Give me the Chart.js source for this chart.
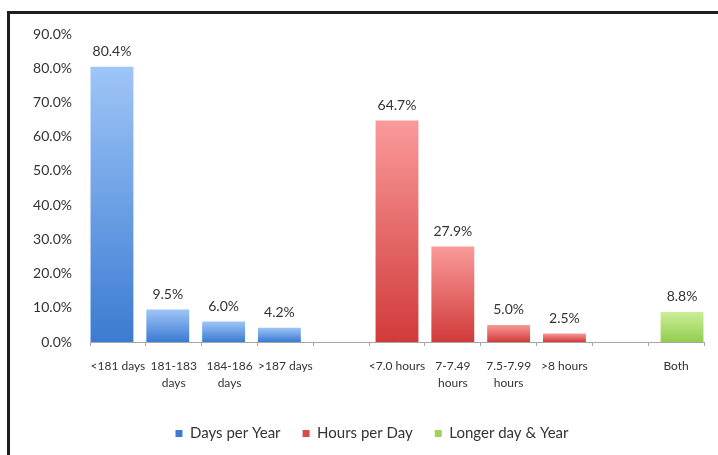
<!DOCTYPE html>
<html lang="en">
<head>
    <meta charset="UTF-8">
    <title>School Days and Hours</title>
    <script src="https://cdn.jsdelivr.net/npm/chart.js"></script>
    <style>
        html, body { margin: 0; padding: 0; background: #fff; overflow: hidden; }
        #wrap { position: relative; width: 718px; height: 455px; }
        #frame { position: absolute; left: 7px; top: 11px; width: 800px; height: 500px; border: 3px solid #1e1e1e; pointer-events: none; }
        canvas { position: absolute; left: 0; top: 0; }
    </style>
</head>
<body>
    <div id="wrap">
        <canvas id="chart" width="718" height="455"></canvas>
        <div id="frame"></div>
    </div>

    <script>
        const categories = [
            '<181 days', ['181-183', 'days'], ['184-186', 'days'], '>187 days', '',
            '<7.0 hours', ['7-7.49', 'hours'], ['7.5-7.99', 'hours'], '>8 hours', '',
            'Both'
        ];
        const daysPerYear  = [80.4, 9.5, 6.0, 4.2, null, null, null, null, null, null, null];
        const hoursPerDay  = [null, null, null, null, null, 64.7, 27.9, 5.0, 2.5, null, null];
        const longerDayYear = [null, null, null, null, null, null, null, null, null, null, 8.8];
        const yTicks = [0, 10, 20, 30, 40, 50, 60, 70, 80, 90];

        const FONT = 'Lato, "Open Sans", sans-serif';

        // light at top, darker at the base of each bar
        function barGradient(top, bottom, solid) {
            return function (ctx) {
                if (ctx.type !== 'data' || ctx.raw == null) return solid;
                const y = ctx.chart.scales.y;
                if (!y) return solid;
                const y0 = y.getPixelForValue(ctx.raw);
                const y1 = y.getPixelForValue(0);
                if (!isFinite(y0) || !isFinite(y1) || y0 === y1) return solid;
                const g = ctx.chart.ctx.createLinearGradient(0, y0, 0, y1);
                g.addColorStop(0, top);
                g.addColorStop(1, bottom);
                return g;
            };
        }

        const valueLabels = {
            id: 'valueLabels',
            afterDatasetsDraw(chart) {
                const c = chart.ctx;
                c.save();
                c.font = '14px ' + FONT;
                c.fillStyle = '#333';
                c.textAlign = 'center';
                c.textBaseline = 'middle';
                chart.data.datasets.forEach((ds, i) => {
                    chart.getDatasetMeta(i).data.forEach((bar, j) => {
                        const v = ds.data[j];
                        if (v == null) return;
                        c.fillText(v.toFixed(1) + '%', bar.x, bar.y - 15);
                    });
                });
                c.restore();
            }
        };

        // nudge the legend a little to the right, as in the original
        const legendShift = {
            id: 'legendShift',
            afterLayout(chart) {
                if (chart.legend) {
                    chart.legend.left += 10;
                    chart.legend.right += 10;
                }
            }
        };

        new Chart(document.getElementById('chart'), {
            type: 'bar',
            data: {
                labels: categories,
                datasets: [
                    { label: 'Days per Year', data: daysPerYear,
                      backgroundColor: barGradient('#9fc5f8', '#3b7bd1', '#4a86d6') },
                    { label: 'Hours per Day', data: hoursPerDay,
                      backgroundColor: barGradient('#fa9a9a', '#d13a3a', '#d9484a') },
                    { label: 'Longer day & Year', data: longerDayYear,
                      backgroundColor: barGradient('#cbee97', '#93cd4e', '#9fd35a') }
                ]
            },
            options: {
                responsive: false,
                animation: false,
                layout: { padding: { left: 20, right: 14, top: 34, bottom: 14 } },
                // heavily overlapped groups, like the original spreadsheet chart
                datasets: { bar: { categoryPercentage: 0.32, barPercentage: 7.2 } },
                scales: {
                    x: {
                        grid: { drawOnChartArea: false, drawTicks: true, tickLength: 4, color: '#a6a6a6' },
                        border: { color: '#a6a6a6' },
                        ticks: { color: '#333', font: { family: FONT, size: 12, lineHeight: 1.4 },
                                 padding: 12, maxRotation: 0, autoSkip: false },
                        afterFit(scale) { scale.height = 62; }
                    },
                    y: {
                        min: 0, max: 90,
                        afterBuildTicks(scale) { scale.ticks = yTicks.map(v => ({ value: v })); },
                        grid: { display: false, drawTicks: false },
                        border: { display: false },
                        ticks: { color: '#333', font: { family: FONT, size: 14 }, padding: 18,
                                 callback: v => v.toFixed(1) + '%' },
                        afterFit(scale) { scale.width = 70; }
                    }
                },
                plugins: {
                    legend: {
                        position: 'bottom',
                        maxHeight: 37,
                        labels: { boxWidth: 7, boxHeight: 7, padding: 22, color: '#333',
                                  font: { family: FONT, size: 15 } }
                    },
                    tooltip: { enabled: false }
                }
            },
            plugins: [valueLabels, legendShift]
        });
    </script>
</body>
</html>
